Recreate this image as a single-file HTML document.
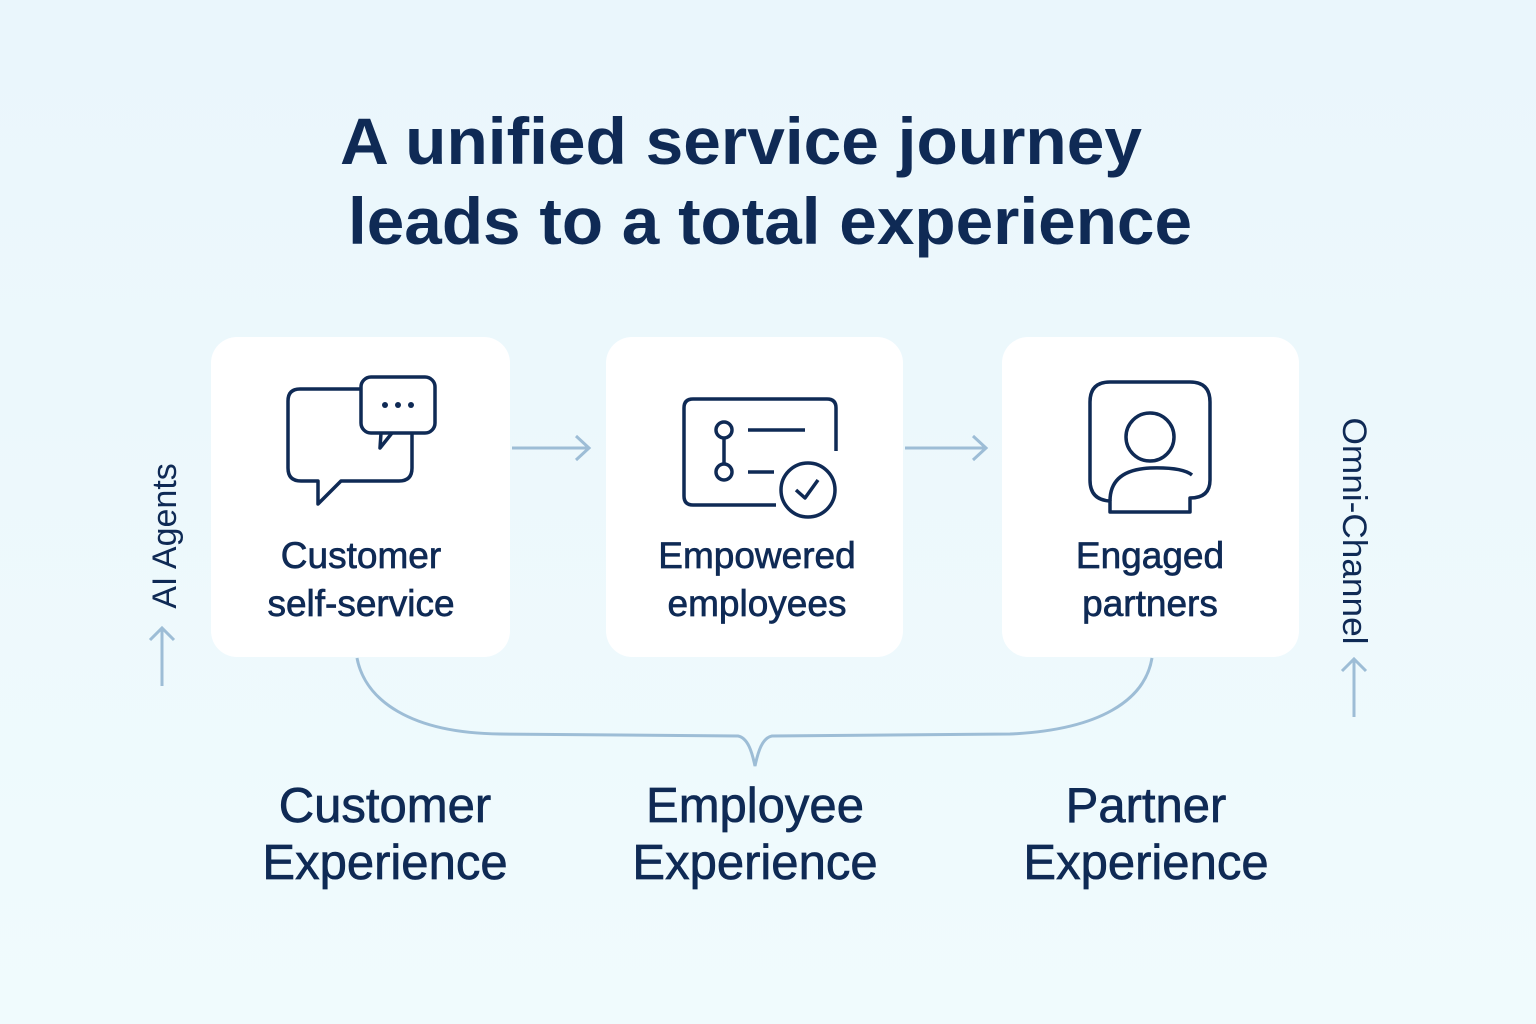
<!DOCTYPE html>
<html><head><style>
html,body{margin:0;padding:0;background:#eef8fc;}
svg{display:block}
text{font-family:"Liberation Sans",sans-serif;fill:#0f2a55}
.m{stroke:#0f2a55;stroke-width:0.7}
</style></head><body>
<svg width="1536" height="1024" viewBox="0 0 1536 1024">
<defs><linearGradient id="bg" x1="0" y1="0" x2="0" y2="1"><stop offset="0" stop-color="#eaf6fc"/><stop offset="1" stop-color="#f0fbfd"/></linearGradient></defs>
<rect width="1536" height="1024" fill="url(#bg)"/>
<text x="340" y="164" font-size="66" font-weight="bold" textLength="802" lengthAdjust="spacingAndGlyphs">A unified service journey</text>
<text x="348" y="244" font-size="66" font-weight="bold" textLength="844" lengthAdjust="spacingAndGlyphs">leads to a total experience</text>
<rect x="211" y="337" width="299" height="320" rx="26" fill="#fff"/>
<rect x="606" y="337" width="297" height="320" rx="26" fill="#fff"/>
<rect x="1002" y="337" width="297" height="320" rx="26" fill="#fff"/>
<g stroke="#9dbdd6" stroke-width="3" fill="none">
<path d="M512 448H588M576 436L589 448L576 460"/>
<path d="M905 448H985M973 436L986 448L973 460"/>
<path d="M162 686V628M150 640L162 628L174 640"/>
<path d="M1354 717V659M1342 671L1354 659L1366 671"/>
<path d="M357 658C365 700 410 733 500 734L738 736C748 738 752 752 755 766C758 752 762 738 772 736L1010 734C1100 730 1145 700 1152 658"/>
</g>
<g stroke="#0f2a55" stroke-width="3.5" fill="none" stroke-linejoin="round">
<path d="M361 389H300Q288 389 288 401V468Q288 481 301 481H318V504L341 481H399Q412 481 412 468V433"/>
<rect x="361" y="377" width="74" height="56" rx="10"/>
<path d="M381 433L380 448L392 433"/>
<path d="M836 451V408Q836 399 827 399H693Q684 399 684 408V496Q684 505 693 505H776"/>
<circle cx="724" cy="430" r="8"/><circle cx="724" cy="472" r="8"/><path d="M724 438V464M748 430H805M748 472H774"/>
<circle cx="808" cy="490" r="27"/><path d="M796 490L805 498L818 480"/>
<path d="M1110 501Q1090 500 1090 480V402Q1090 382 1110 382H1190Q1210 382 1210 402V480Q1210 498 1190 498V512H1110Z"/>
<circle cx="1150" cy="437" r="24"/>
<path d="M1110 501Q1110 470 1150 468Q1182 467 1192 475"/>
</g>
<g fill="#0f2a55"><circle cx="385" cy="405" r="3"/><circle cx="398" cy="405" r="3"/><circle cx="411" cy="405" r="3"/></g>
<g font-size="37" text-anchor="middle" class="m">
<text x="361" y="568">Customer</text><text x="361" y="616">self-service</text>
<text x="757" y="568">Empowered</text><text x="757" y="616">employees</text>
<text x="1150" y="568">Engaged</text><text x="1150" y="616">partners</text>
</g>
<g font-size="49" text-anchor="middle" class="m">
<text x="385" y="822">Customer</text><text x="385" y="879">Experience</text>
<text x="755" y="822">Employee</text><text x="755" y="879">Experience</text>
<text x="1146" y="822">Partner</text><text x="1146" y="879">Experience</text>
</g>
<text transform="translate(176,536) rotate(-90)" font-size="34" text-anchor="middle">AI Agents</text>
<text transform="translate(1343,531) rotate(90)" font-size="34" text-anchor="middle" textLength="227" lengthAdjust="spacingAndGlyphs">Omni-Channel</text>
</svg>
</body></html>
